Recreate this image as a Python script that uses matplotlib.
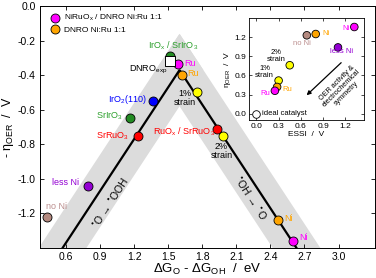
import numpy as np
import matplotlib
matplotlib.use('Agg')
import matplotlib.pyplot as plt

plt.rcParams['font.family'] = ['Liberation Sans', 'DejaVu Sans']
plt.rcParams['axes.unicode_minus'] = False

# main volcano data (dG_O - dG_OH, -eta)
niruox_x = [1.585, 2.60]
niruox_y = [-0.335, -1.36]
dnro_x = [1.62, 2.47]
dnro_y = [-0.40, -1.24]
iro2_x = [1.37]
iro2_y = [-0.55]
sririo3_x = [1.16, 1.52]
sririo3_y = [-0.65, -0.29]
srruo3_x = [1.23, 1.93]
srruo3_y = [-0.75, -0.71]
strain_x = [1.75, 1.98]
strain_y = [-0.50, -0.75]
lessni_x, lessni_y = [0.79], [-1.04]
noni_x, noni_y = [0.43], [-1.22]
exp_x, exp_y = [1.52], [-0.32]

# inset data (ESSI, eta)
essi_x = [1.32, 0.80, 0.68, 1.10, 0.45, 0.30, 0.28, 0.25]
essi_y = [1.36, 1.25, 1.23, 1.04, 0.76, 0.52, 0.42, 0.36]
essi_c = ['#ff00ff', '#ffa500', '#b48a80', '#9400d3', '#ffff00', '#ffff00', '#ffa500', '#ff00ff']

fig = plt.figure(figsize=(3.76, 2.78), dpi=100)
ax = fig.add_axes([0.106, 0.108, 0.891, 0.870])

d = 0.21
band = '#dcdcdc'
xl = np.linspace(0.2, 1.6 + d, 200)
ax.fill_between(xl, xl - 1.97 - d, np.minimum(xl - 1.97 + d, 1.23 - xl + d), color=band, lw=0, zorder=0)
xr = np.linspace(1.6 - d, 3.5, 200)
ax.fill_between(xr, 1.23 - xr - d, np.minimum(1.23 - xr + d, xr - 1.97 + d), color=band, lw=0, zorder=0)

xv = np.linspace(0.4, 2.8, 500)
ax.plot(xv, np.minimum(xv - 1.97, 1.23 - xv), color='black', lw=1.6, zorder=1)

ms = 42
ek = dict(edgecolors='black', linewidths=0.6, zorder=3)
ax.scatter(sririo3_x, sririo3_y, s=ms, c='#228b22', **ek)
ax.scatter(exp_x, exp_y, s=ms, marker='s', c='white', edgecolors='black', linewidths=0.7, zorder=4)
ax.scatter(niruox_x, niruox_y, s=ms, c='#ff00ff', label='NiRuO$_\\mathregular{x}$ / DNRO Ni:Ru 1:1', **ek)
ax.scatter(dnro_x, dnro_y, s=ms, c='#ffa500', label='DNRO Ni:Ru 1:1', **ek)
ax.scatter(iro2_x, iro2_y, s=ms, c='#0000ff', **ek)
ax.scatter(srruo3_x, srruo3_y, s=ms, c='#ff0000', **ek)
ax.scatter(strain_x, strain_y, s=ms, c='#ffff00', **ek)
ax.scatter(lessni_x, lessni_y, s=ms, c='#9400d3', **ek)
ax.scatter(noni_x, noni_y, s=ms, c='#b48a80', **ek)

fs = 6.5
ax.text(1.54, -0.23, 'IrO$_\\mathregular{x}$ / SrIrO$_\\mathregular{3}$', color='#2ca02c', fontsize=fs, ha='center', va='center')
ax.text(1.64, -0.33, 'Ru', color='#ff00ff', fontsize=fs, ha='left', va='center')
ax.text(1.67, -0.39, 'Ru', color='#ffa500', fontsize=fs, ha='left', va='center')
ax.text(1.49, -0.37, 'DNRO$_\\mathregular{exp}$', color='black', fontsize=fs, ha='right', va='center')
ax.text(1.645, -0.53, '1%\nstrain', color='black', fontsize=fs, ha='center', va='center', linespacing=1.0)
ax.text(1.31, -0.54, 'IrO$_\\mathregular{2}$(110)', color='#0000ff', fontsize=fs, ha='right', va='center')
ax.text(1.10, -0.64, 'SrIrO$_\\mathregular{3}$', color='#2ca02c', fontsize=fs, ha='right', va='center')
ax.text(1.15, -0.755, 'SrRuO$_\\mathregular{3}$', color='#ff0000', fontsize=fs, ha='right', va='center')
ax.text(1.64, -0.73, 'RuO$_\\mathregular{x}$ / SrRuO$_\\mathregular{3}$', color='#ff0000', fontsize=fs, ha='center', va='center')
ax.text(1.97, -0.84, '2%\nstrain', color='black', fontsize=fs, ha='center', va='center', linespacing=1.0)
ax.text(0.72, -1.02, 'less Ni', color='#9400d3', fontsize=fs, ha='right', va='center')
ax.text(0.42, -1.16, 'no Ni', color='#bc8f8f', fontsize=fs, ha='left', va='center')
ax.text(2.525, -1.23, 'Ni', color='#ffa500', fontsize=fs, ha='left', va='center')
ax.text(2.65, -1.34, 'Ni', color='#ff00ff', fontsize=fs, ha='left', va='center')
ax.text(0.99, -1.14, '$^\\mathregular{\u2022}$O \u2192 $^\\mathregular{\u2022}$OOH', fontsize=7.5, rotation=57,
        ha='center', va='center', rotation_mode='anchor')
ax.text(2.22, -1.11, '$^\\mathregular{\u2022}$OH \u2192 $^\\mathregular{\u2022}$O', fontsize=7.5, rotation=-57,
        ha='center', va='center', rotation_mode='anchor')

ax.set_xlim(0.37, 3.32)
ax.set_ylim(-1.4, 0.0)
ax.set_xticks(np.arange(0.6, 3.01, 0.3))
ax.set_xticklabels(['%.1f' % v for v in np.arange(0.6, 3.01, 0.3)])
ax.set_yticks(np.arange(-1.2, 0.01, 0.2))
ax.set_yticklabels(['%.1f' % v if abs(v) > 1e-9 else '0.0' for v in np.arange(-1.2, 0.01, 0.2)])
ax.tick_params(direction='in', top=True, right=True, labelsize=7.5, length=3, width=0.6, pad=3)
for s in ax.spines.values():
    s.set_linewidth(0.7)
ax.set_xlabel('\u0394G$_\\mathregular{O}$ - \u0394G$_\\mathregular{OH}$  /  eV', fontsize=9.5, labelpad=0)
ax.set_ylabel('- \u03b7$_\\mathregular{OER}$  /  V', fontsize=9, labelpad=1)
ax.legend(loc='upper left', frameon=False, fontsize=6, handletextpad=0.1, borderaxespad=0.3,
          labelspacing=0.3, scatterpoints=1, borderpad=0.5)

# inset
ins = fig.add_axes([0.662, 0.568, 0.306, 0.367])
ins.scatter([0.0], [0.0], s=30, facecolors='white', edgecolors='black', linewidths=0.6, zorder=3)
ins.scatter(essi_x, essi_y, s=30, c=essi_c, edgecolors='black', linewidths=0.6, zorder=3)
fi = 5.5
ins.text(1.255, 1.34, 'Ni', color='#ff00ff', fontsize=fi, ha='right', va='center')
ins.text(0.89, 1.26, 'Ni', color='#ffa500', fontsize=fi, ha='left', va='center')
ins.text(0.62, 1.10, 'no Ni', color='#bc8f8f', fontsize=fi, ha='center', va='center')
ins.text(1.145, 0.97, 'less Ni', color='#9400d3', fontsize=fi, ha='center', va='center')
ins.text(0.27, 0.90, '2%\nstrain', fontsize=fi, ha='center', va='center', linespacing=1.0)
ins.text(0.11, 0.65, '1%\nstrain', fontsize=fi, ha='center', va='center', linespacing=1.0)
ins.text(0.35, 0.385, 'Ru', color='#ffa500', fontsize=fi, ha='left', va='center')
ins.text(0.18, 0.32, 'Ru', color='#ff00ff', fontsize=fi, ha='right', va='center')
ins.text(0.08, 0.01, 'ideal catalyst', fontsize=fi, ha='left', va='center')
ins.annotate('', xy=(0.65, 0.26), xytext=(1.17, 0.83),
             arrowprops=dict(arrowstyle='-|>', color='black', lw=0.9, mutation_scale=6))
ins.text(1.15, 0.40, 'OER activity &\nelectrochemical\nsymmetry', fontsize=5.2, rotation=45,
         ha='center', va='center', linespacing=0.95, rotation_mode='anchor')
ins.set_xlim(-0.1, 1.45)
ins.set_ylim(-0.1, 1.5)
ins.set_xticks([0.0, 0.3, 0.6, 0.9, 1.2])
ins.set_yticks([0.0, 0.3, 0.6, 0.9, 1.2])
ins.tick_params(direction='in', top=True, right=True, labelsize=6, length=2, width=0.5, pad=2)
for s in ins.spines.values():
    s.set_linewidth(0.6)
ins.set_xlabel('ESSI  /  V', fontsize=6, labelpad=1)
ins.set_ylabel('\u03b7$_\\mathregular{OER}$  /  V', fontsize=6, labelpad=1)

fig.savefig('out.png', dpi=100)
